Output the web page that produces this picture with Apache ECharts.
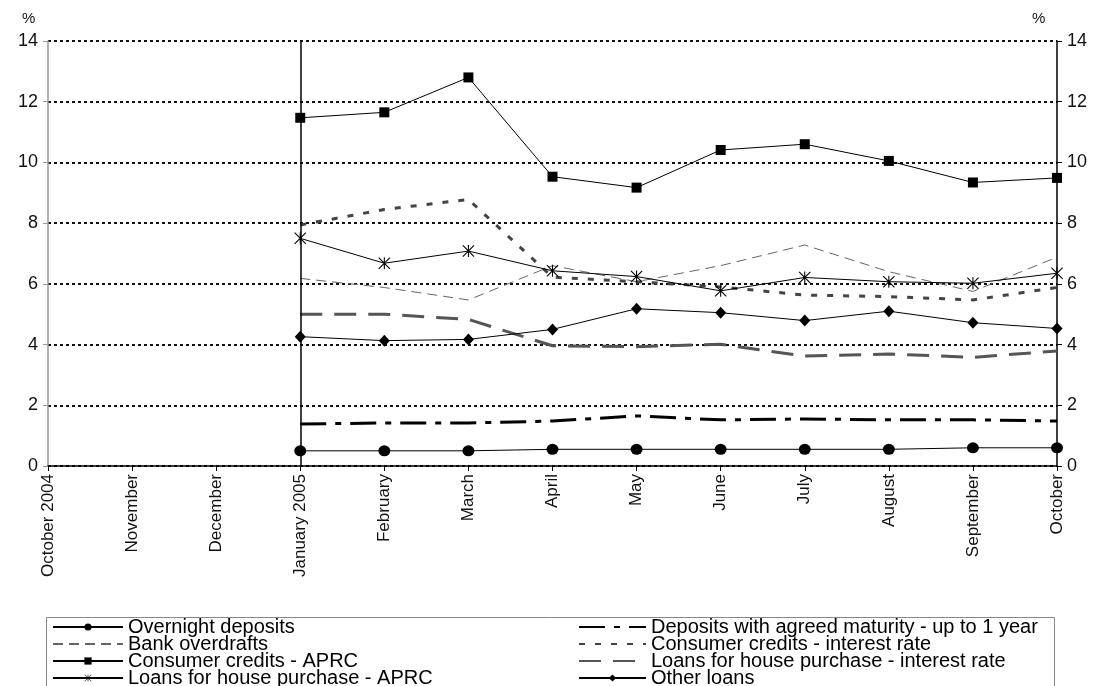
<!DOCTYPE html>
<html>
<head>
<meta charset="utf-8">
<style>
  html, body { margin: 0; padding: 0; background: #fff; }
  #chart { width: 1101px; height: 686px; }
</style>
<script src="https://cdn.jsdelivr.net/npm/echarts@6/dist/echarts.min.js"></script>
</head>
<body>
<div id="chart"></div>
<script>
// Monthly interest rates, October 2004 - October 2005 (%)
const months = ['October 2004', 'November', 'December', 'January 2005', 'February', 'March',
  'April', 'May', 'June', 'July', 'August', 'September', 'October'];
const yTicks = [0, 2, 4, 6, 8, 10, 12, 14];

const overnightDeposits   = [null, null, null, 0.50, 0.50, 0.50, 0.55, 0.55, 0.55, 0.55, 0.55, 0.60, 0.60];
const agreedMaturity      = [null, null, null, 1.38, 1.42, 1.42, 1.48, 1.65, 1.52, 1.55, 1.52, 1.52, 1.48];
const bankOverdrafts      = [null, null, null, 6.18, 5.88, 5.47, 6.60, 6.07, 6.60, 7.28, 6.40, 5.75, 6.88];
const consumerRate        = [null, null, null, 7.94, 8.45, 8.78, 6.22, 6.07, 5.90, 5.63, 5.58, 5.47, 5.88];
const consumerAPRC        = [null, null, null, 11.47, 11.65, 12.80, 9.53, 9.17, 10.41, 10.60, 10.05, 9.34, 9.49];
const houseRate           = [null, null, null, 5.00, 5.00, 4.83, 3.96, 3.93, 4.01, 3.62, 3.69, 3.58, 3.79];
const houseAPRC           = [null, null, null, 7.50, 6.68, 7.08, 6.43, 6.24, 5.77, 6.21, 6.07, 6.02, 6.35];
const otherLoans          = [null, null, null, 4.26, 4.13, 4.17, 4.50, 5.18, 5.05, 4.79, 5.10, 4.72, 4.53];

const AXIS_FONT = '"Liberation Sans", Arial, sans-serif';

// asterisk marker: vertical bar plus two diagonals
const asterisk = 'path://M4.55,0 L5.45,0 L5.45,10 L4.55,10 Z M0,0.65 L0.65,0 L10,9.35 L9.35,10 Z M9.35,0 L10,0.65 L0.65,10 L0,9.35 Z';

function lineSeries(name, data, opts) {
  return Object.assign({
    name: name,
    type: 'line',
    data: data,
    connectNulls: false,
    symbol: 'none',
    z: 3,
    animation: false,
    lineStyle: { color: '#000', width: 1, type: 'solid' },
    itemStyle: { color: '#000' }
  }, opts);
}

const series = [
  lineSeries('Overnight deposits', overnightDeposits, {
    symbol: 'circle', symbolSize: [12, 11], z: 5,
    markLine: {
      silent: true, symbol: 'none', animation: false,
      label: { show: false },
      lineStyle: { color: '#000', width: 1.5, type: 'solid' },
      data: [{ xAxis: 'January 2005' }]
    }
  }),
  lineSeries('Deposits with agreed maturity - up to 1 year', agreedMaturity, {
    lineStyle: { color: '#000', width: 3, type: [26, 9, 6, 9] }
  }),
  lineSeries('Bank overdrafts', bankOverdrafts, {
    lineStyle: { color: '#666', width: 1, type: [10, 6] }
  }),
  lineSeries('Consumer credits - interest rate', consumerRate, {
    lineStyle: { color: '#444', width: 3, type: [6, 10] }
  }),
  lineSeries('Consumer credits - APRC', consumerAPRC, {
    symbol: 'rect', symbolSize: 10, z: 5
  }),
  lineSeries('Loans for house purchase - interest rate', houseRate, {
    lineStyle: { color: '#555', width: 3, type: [22, 12] }
  }),
  lineSeries('Loans for house purchase - APRC', houseAPRC, {
    symbol: asterisk, symbolSize: 12, z: 5
  }),
  lineSeries('Other loans', otherLoans, {
    symbol: 'diamond', symbolSize: [11, 12], z: 5
  })
];

// legend entries for plain lines hide the default marker
const plainEntry = name => ({ name: name, itemStyle: { opacity: 0 } });

const legendCommon = {
  orient: 'vertical',
  top: 617,
  height: 80,
  padding: 0,
  itemHeight: 9,
  itemGap: -3,
  selectedMode: false,
  textStyle: { fontFamily: AXIS_FONT, fontSize: 20, color: '#000' }
};

const chart = echarts.init(document.getElementById('chart'), null, { renderer: 'canvas' });
chart.setOption({
  backgroundColor: '#fff',
  animation: false,
  grid: { left: 48, right: 44, top: 41, bottom: 220, containLabel: false },
  legend: [
    Object.assign({}, legendCommon, {
      left: 52, itemWidth: 70,
      data: ['Overnight deposits', plainEntry('Bank overdrafts'), 'Consumer credits - APRC',
        'Loans for house purchase - APRC']
    }),
    Object.assign({}, legendCommon, {
      left: 578, itemWidth: 67,
      data: [plainEntry('Deposits with agreed maturity - up to 1 year'), plainEntry('Consumer credits - interest rate'),
        plainEntry('Loans for house purchase - interest rate'), 'Other loans']
    })
  ],
  xAxis: {
    type: 'category',
    data: months,
    boundaryGap: false,
    axisLine: { lineStyle: { color: '#000', width: 1.5 } },
    axisTick: { show: true, length: 5, interval: 0, lineStyle: { color: '#000' } },
    axisLabel: {
      interval: 0, rotate: 90, margin: 8,
      fontFamily: AXIS_FONT, fontSize: 17, color: '#111'
    },
    splitLine: { show: false }
  },
  yAxis: [
    {
      type: 'value', min: yTicks[0], max: yTicks[yTicks.length - 1], interval: 2,
      position: 'left',
      axisLine: { show: true, lineStyle: { color: '#999', width: 1.5 } },
      axisTick: { show: true, length: 5, lineStyle: { color: '#999' } },
      axisLabel: { margin: 10, fontFamily: AXIS_FONT, fontSize: 18, color: '#111' },
      splitLine: { show: true, lineStyle: { color: '#111', width: 2, type: [3, 3] } }
    },
    {
      type: 'value', min: yTicks[0], max: yTicks[yTicks.length - 1], interval: 2,
      position: 'right',
      axisLine: { show: true, lineStyle: { color: '#000', width: 1.5 } },
      axisTick: { show: true, length: 5, lineStyle: { color: '#000' } },
      axisLabel: { margin: 10, fontFamily: AXIS_FONT, fontSize: 18, color: '#111' },
      splitLine: { show: false }
    }
  ],
  graphic: [
    { type: 'text', left: 22, top: 11, style: { text: '%', fontFamily: AXIS_FONT, fontSize: 15, fill: '#111' } },
    { type: 'text', left: 1032, top: 11, style: { text: '%', fontFamily: AXIS_FONT, fontSize: 15, fill: '#111' } },
    {
      type: 'rect', left: 44, top: 615, z: -1,
      shape: { width: 1008, height: 76 },
      style: { fill: 'none', stroke: '#888', lineWidth: 1 }
    }
  ],
  series: series
});
</script>
</body>
</html>
